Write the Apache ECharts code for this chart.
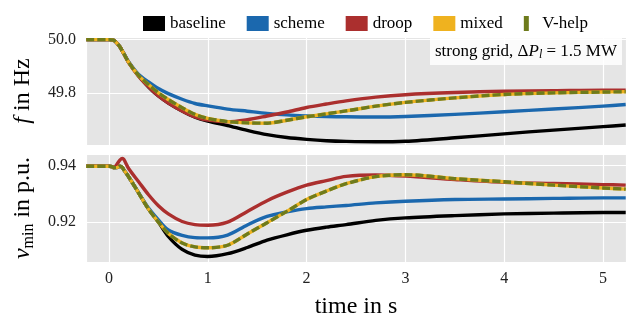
<!DOCTYPE html>
<html>
<head>
<meta charset="utf-8">
<script src="https://cdn.jsdelivr.net/npm/echarts@6/dist/echarts.min.js"></script>
<style>html,body{margin:0;padding:0;background:#fff;}#c{width:639px;height:320px;}</style>
</head>
<body>
<div id="c"></div>
<script>
const seriesNames = ['baseline', 'scheme', 'droop', 'mixed', 'V-help'];
const time = [-0.23, 0, 0.03, 0.05, 0.08, 0.11, 0.135, 0.15, 0.2, 0.3, 0.4, 0.5, 0.6, 0.74, 0.87, 1.0, 1.2, 1.4, 1.6, 1.8, 2.0, 2.2, 2.4, 2.7, 3.0, 3.5, 4.0, 4.5, 5.0, 5.23];

const fBaseline = [50.0, 50.0, 49.999, 49.997, 49.987, 49.973, 49.957, 49.947, 49.914, 49.864, 49.822, 49.788, 49.762, 49.732, 49.709, 49.694, 49.677, 49.659, 49.643, 49.632, 49.625, 49.620, 49.6175, 49.616, 49.618, 49.631, 49.646, 49.660, 49.673, 49.679];
const fScheme   = [50.0, 50.0, 49.999, 49.997, 49.987, 49.973, 49.957, 49.948, 49.916, 49.869, 49.841, 49.816, 49.797, 49.776, 49.760, 49.751, 49.739, 49.731, 49.723, 49.717, 49.7135, 49.711, 49.710, 49.709, 49.711, 49.719, 49.729, 49.739, 49.750, 49.756];
const fDroop    = [50.0, 50.0, 49.999, 49.997, 49.987, 49.973, 49.957, 49.947, 49.913, 49.862, 49.8225, 49.788, 49.762, 49.732, 49.710, 49.6975, 49.691, 49.699, 49.713, 49.728, 49.745, 49.758, 49.770, 49.784, 49.793, 49.801, 49.806, 49.808, 49.810, 49.810];
const fMixed    = [50.0, 50.0, 49.999, 49.997, 49.987, 49.973, 49.957, 49.947, 49.914, 49.865, 49.831, 49.800, 49.775, 49.744, 49.719, 49.704, 49.692, 49.687, 49.686, 49.697, 49.710, 49.721, 49.732, 49.750, 49.764, 49.781, 49.794, 49.800, 49.803, 49.804];
const fVhelp    = [50.0, 50.0, 49.999, 49.997, 49.987, 49.973, 49.957, 49.947, 49.914, 49.865, 49.831, 49.800, 49.775, 49.744, 49.719, 49.704, 49.692, 49.687, 49.686, 49.697, 49.710, 49.721, 49.732, 49.750, 49.764, 49.781, 49.794, 49.800, 49.803, 49.804];

const vBaseline = [0.9398, 0.9398, 0.9397, 0.9393, 0.9393, 0.9398, 0.9394, 0.9385, 0.9360, 0.9303, 0.9246, 0.9200, 0.9149, 0.9103, 0.9083, 0.9078, 0.9088, 0.9110, 0.9136, 0.9155, 0.9171, 0.9182, 0.9191, 0.9206, 0.9215, 0.9223, 0.9229, 0.9232, 0.9234, 0.9234];
const vScheme   = [0.9398, 0.9398, 0.9397, 0.9393, 0.9393, 0.9398, 0.9394, 0.9385, 0.9360, 0.9304, 0.9250, 0.9208, 0.9172, 0.9153, 0.9145, 0.9144, 0.9154, 0.9190, 0.9220, 0.9236, 0.9248, 0.9254, 0.9259, 0.9268, 0.9274, 0.9280, 0.9282, 0.9284, 0.9286, 0.9286];
const vDroop    = [0.9398, 0.9398, 0.9397, 0.9393, 0.9405, 0.9420, 0.9426, 0.9422, 0.9389, 0.9343, 0.9297, 0.9258, 0.9229, 0.9202, 0.9191, 0.9189, 0.9200, 0.9238, 0.9276, 0.9306, 0.9331, 0.9347, 0.9362, 0.9367, 0.9363, 0.9351, 0.9341, 0.9337, 0.9333, 0.9331];
const vMixed    = [0.9398, 0.9398, 0.9397, 0.9393, 0.9393, 0.9398, 0.9394, 0.9385, 0.9360, 0.9303, 0.9246, 0.9200, 0.9160, 0.9126, 0.9112, 0.9109, 0.9118, 0.9158, 0.9198, 0.9238, 0.9280, 0.9310, 0.9336, 0.9361, 0.9368, 0.9354, 0.9343, 0.9331, 0.9321, 0.9317];
const vVhelp    = [0.9398, 0.9398, 0.9397, 0.9393, 0.9393, 0.9398, 0.9394, 0.9385, 0.9360, 0.9303, 0.9246, 0.9200, 0.9160, 0.9126, 0.9112, 0.9109, 0.9118, 0.9158, 0.9198, 0.9238, 0.9280, 0.9310, 0.9336, 0.9361, 0.9368, 0.9354, 0.9343, 0.9331, 0.9321, 0.9317];

const xTickLabels = ['0', '1', '2', '3', '4', '5'];
const fTickLabels = ['49.8', '50.0'];
const vTickLabels = ['0.92', '0.94'];

const colors = {baseline: '#000000', scheme: '#1b68ae', droop: '#ab2f2e', mixed: '#efb21f', 'V-help': '#6e7b1c'};
const FONT = 'Liberation Serif';

const pairs = (vals) => time.map((t, i) => [t, vals[i]]);
const topData = [fBaseline, fScheme, fDroop, fMixed, fVhelp];
const botData = [vBaseline, vScheme, vDroop, vMixed, vVhelp];

function mkSeries(name, vals, idx) {
  const isV = name === 'V-help';
  return {
    name: name, type: 'line', xAxisIndex: idx, yAxisIndex: idx,
    data: pairs(vals), showSymbol: false, symbolKeepAspect: true,
    smooth: 0.3,
    lineStyle: {color: colors[name], width: 3.4, type: isV ? [8, 3] : 'solid', cap: 'butt', join: 'round'},
    itemStyle: {color: colors[name]},
    z: 2 + seriesNames.indexOf(name)
  };
}
const series = [];
seriesNames.forEach((n, i) => series.push(mkSeries(n, topData[i], 0)));
seriesNames.forEach((n, i) => series.push(mkSeries(n, botData[i], 1)));

const xMin = -0.233, xMax = 5.233;
function xAxisCfg(idx, showLabels) {
  return {
    type: 'value', gridIndex: idx, min: xMin, max: xMax, splitNumber: 5,
    axisLine: {show: false}, axisTick: {show: false},
    splitLine: {show: true, lineStyle: {color: '#ffffff', width: 1.2}},
    axisLabel: {
      show: showLabels, fontFamily: FONT, fontSize: 16, color: '#222', margin: 9,
      formatter: (v) => { const s = String(Math.round(v)); return (Math.abs(v - Math.round(v)) < 1e-6 && xTickLabels.includes(s)) ? s : ''; }
    },
    name: showLabels ? 'time in s' : '', nameLocation: 'middle', nameGap: 33,
    nameTextStyle: {fontFamily: FONT, fontSize: 24, color: '#000'}
  };
}
function yAxisCfg(idx, min, max, labels, decimals, name, rich) {
  return {
    type: 'value', gridIndex: idx, min: min, max: max, splitNumber: 2,
    axisLine: {show: false}, axisTick: {show: false},
    splitLine: {show: true, lineStyle: {color: '#ffffff', width: 1.2}},
    axisLabel: {
      fontFamily: FONT, fontSize: 16, color: '#222', margin: 10,
      formatter: (v) => { const s = v.toFixed(decimals); return labels.includes(s) ? s : ''; }
    },
    name: name, nameLocation: 'middle', nameGap: 45, nameRotate: 90,
    nameTextStyle: {fontFamily: FONT, fontSize: 24, color: '#000', lineHeight: 28, rich: rich}
  };
}

const option = {
  animation: false,
  backgroundColor: '#ffffff',
  textStyle: {fontFamily: FONT},
  title: {
    text: 'strong grid, {d|Δ}{it|P}{sub|l} = 1.5 MW',
    right: 17, top: 38, padding: [4, 5, 4, 5],
    backgroundColor: 'rgba(255,255,255,0.82)',
    textStyle: {
      fontFamily: FONT, fontSize: 17, fontWeight: 'normal', color: '#000', lineHeight: 19,
      rich: {
        d: {fontFamily: FONT, fontSize: 17, color: '#000', lineHeight: 19},
        it: {fontFamily: FONT, fontSize: 17, fontStyle: 'italic', color: '#000', lineHeight: 19},
        sub: {fontFamily: FONT, fontSize: 12, fontStyle: 'italic', color: '#000', lineHeight: 12, verticalAlign: 'bottom'}
      }
    }
  },
  legend: {
    top: 15, left: 143, padding: 0, itemWidth: 22, itemHeight: 15, itemGap: 21,
    textStyle: {fontFamily: FONT, fontSize: 17, color: '#000'},
    itemStyle: {borderWidth: 0, borderType: 'solid'},
    lineStyle: {width: 0, type: 'solid'},
    data: seriesNames.map(n => ({
      name: n,
      icon: n === 'V-help' ? 'path://M0,0L5,0L5,15L0,15Z' : 'rect',
      itemStyle: {color: colors[n], borderWidth: 0, borderColor: colors[n], borderType: 'solid'},
      lineStyle: {width: 0, type: 'solid', color: colors[n]}
    }))
  },
  grid: [
    {left: 86, top: 37, width: 540, height: 108, show: true, backgroundColor: '#e5e5e5', borderWidth: 0},
    {left: 86, top: 154, width: 540, height: 111, show: true, backgroundColor: '#e5e5e5', borderWidth: 0}
  ],
  xAxis: [xAxisCfg(0, false), xAxisCfg(1, true)],
  yAxis: [
    yAxisCfg(0, 49.604, 50.0098, fTickLabels, 1, '{it|f} in Hz',
      {it: {fontFamily: FONT, fontSize: 24, fontStyle: 'italic', color: '#000', lineHeight: 28}}),
    yAxisCfg(1, 0.90586, 0.94414, vTickLabels, 2, '{it|v}{sub|min} in p.u.',
      {it: {fontFamily: FONT, fontSize: 24, fontStyle: 'italic', color: '#000', lineHeight: 28},
       sub: {fontFamily: FONT, fontSize: 16, color: '#000', lineHeight: 16, verticalAlign: 'bottom'}})
  ],
  series: series
};

const chart = echarts.init(document.getElementById('c'), null, {renderer: 'canvas'});
chart.setOption(option);
</script>
</body>
</html>
